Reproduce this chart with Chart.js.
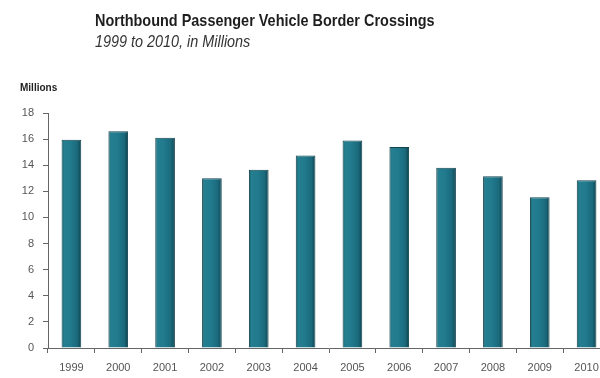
<!DOCTYPE html>
<html>
<head>
<meta charset="utf-8">
<script src="https://cdn.jsdelivr.net/npm/chart.js@4/dist/chart.umd.min.js"></script>
<style>
  html, body { margin: 0; padding: 0; background: #fff; overflow: hidden; }
  #wrap { position: relative; width: 610px; height: 378px; }
  #c { position: absolute; left: 0; top: 0; }
  .t { position: absolute; white-space: nowrap; font-family: "Liberation Sans", Arial, sans-serif; transform-origin: 0 0; }
  #title { left: 95px; top: 11px; font-size: 17px; font-weight: bold; color: #1e1e1e; transform: scaleX(0.85); }
  #sub { left: 95px; top: 33px; font-size: 16px; font-style: italic; color: #333; transform: scaleX(0.9); }
  #unit { left: 20px; top: 82px; font-size: 10px; font-weight: bold; color: #222; }
</style>
</head>
<body>
<div id="wrap">
  <canvas id="c" width="610" height="378"></canvas>
  <div class="t" id="title">Northbound Passenger Vehicle Border Crossings</div>
  <div class="t" id="sub">1999 to 2010, in Millions</div>
  <div class="t" id="unit">Millions</div>
</div>
<script>
const years = ["1999","2000","2001","2002","2003","2004","2005","2006","2007","2008","2009","2010"];
const crossings = [15.95, 16.6, 16.1, 13.0, 13.65, 14.75, 15.9, 15.4, 13.8, 13.15, 11.55, 12.85];
const yTicks = [0, 2, 4, 6, 8, 10, 12, 14, 16, 18];

function barFill(c) {
  const chart = c.chart;
  if (c.type !== 'data' || !chart.chartArea) return '#1f7a8c';
  const sx = chart.scales.x;
  const x = sx.getPixelForValue(c.dataIndex);
  const w = 20;
  const g = chart.ctx.createLinearGradient(x - w / 2, 0, x + w / 2, 0);
  g.addColorStop(0, '#134f5c');
  g.addColorStop(0.12, '#247f90');
  g.addColorStop(0.45, '#217a8d');
  g.addColorStop(0.8, '#1a697b');
  g.addColorStop(1, '#0e3f4b');
  return g;
}

new Chart(document.getElementById('c'), {
  type: 'bar',
  data: {
    labels: years,
    datasets: [{
      data: crossings,
      backgroundColor: barFill,
      borderColor: '#12444f',
      borderWidth: 1,
      categoryPercentage: 1,
      barPercentage: 0.42
    }]
  },
  options: {
    responsive: false,
    animation: false,
    layout: { padding: { top: 113, left: 0, right: 0, bottom: 0 } },
    plugins: { legend: { display: false }, tooltip: { enabled: false } },
    scales: {
      x: {
        offset: true,
        grid: { offset: true, drawOnChartArea: false, drawTicks: true, tickLength: 5, color: '#666' },
        border: { color: '#666', width: 1 },
        ticks: { color: '#555', font: { family: 'Liberation Sans', size: 11 }, padding: 8, maxRotation: 0 },
        afterFit: s => { s.height = 30; }
      },
      y: {
        min: 0, max: 18,
        afterBuildTicks: s => { s.ticks = yTicks.map(v => ({ value: v })); },
        grid: { drawOnChartArea: false, drawTicks: true, tickLength: 5, color: '#666' },
        border: { color: '#666', width: 1 },
        ticks: { color: '#555', font: { family: 'Liberation Sans', size: 11 }, padding: 9 },
        afterFit: s => { s.width = 48; }
      }
    }
  }
});
</script>
</body>
</html>
